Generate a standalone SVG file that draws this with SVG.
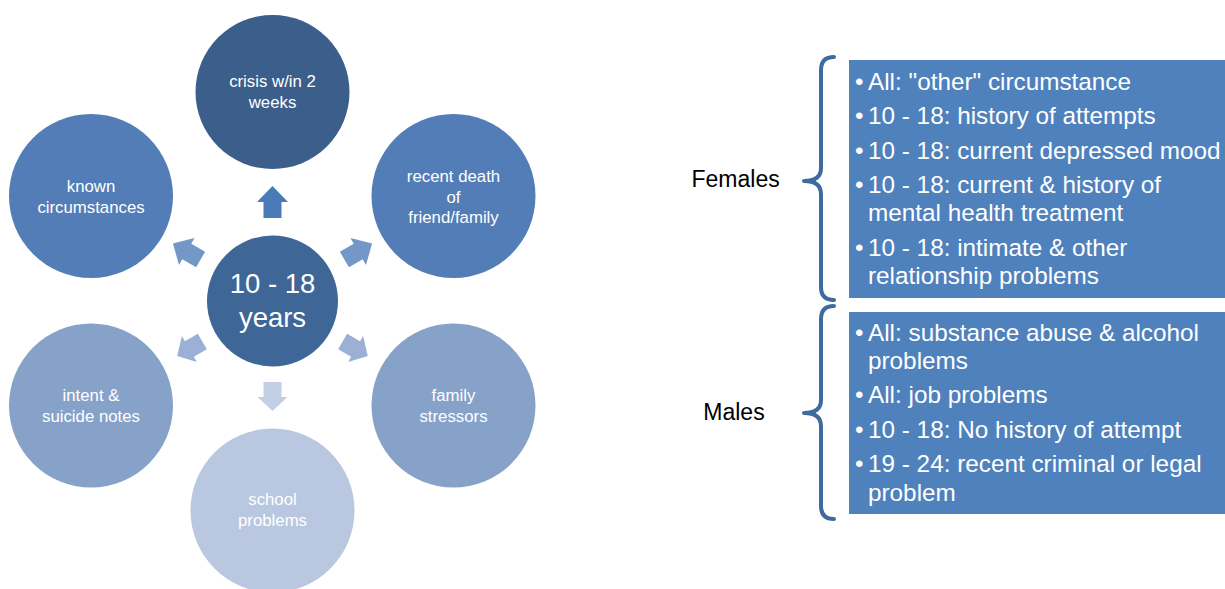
<svg xmlns="http://www.w3.org/2000/svg" xmlns:xlink="http://www.w3.org/1999/xlink" width="1225" height="589" viewBox="0 0 1225 589">
<defs>
<style>
.lbl{font-family:"Liberation Sans",Arial,sans-serif;font-size:16.8px;fill:#ffffff;text-anchor:middle}
.ctr{font-family:"Liberation Sans",Arial,sans-serif;font-size:27.5px;fill:#ffffff;text-anchor:middle}
.item{font-family:"Liberation Sans",Arial,sans-serif;font-size:24.3px;fill:#ffffff}
.side{font-family:"Liberation Sans",Arial,sans-serif;font-size:23px;fill:#000000}
.brace{fill:none;stroke:#3F6A9E;stroke-width:4;stroke-linecap:round;stroke-linejoin:round}
.box{fill:#4F81BD}
</style>
<path id="arrU" d="M -9,-83 L -9,-99 L -15.5,-99 L 0,-115 L 15.5,-99 L 9,-99 L 9,-83 Z"/>
<path id="arrL" d="M -9,-81 L -9,-96 L -15,-96 L 0,-110 L 15,-96 L 9,-96 L 9,-81 Z"/>
</defs>
<rect width="1225" height="589" fill="#ffffff"/>

<g id="connectors">
<use xlink:href="#arrU" href="#arrU" transform="translate(272.5,301)" fill="#4A7BB7"/>
<use xlink:href="#arrU" href="#arrU" transform="translate(272.5,301) rotate(60)" fill="#7397C6"/>
<use xlink:href="#arrU" href="#arrU" transform="translate(272.5,301) rotate(-60)" fill="#7397C6"/>
<use xlink:href="#arrL" href="#arrL" transform="translate(272.5,301) rotate(120)" fill="#9BB0D4"/>
<use xlink:href="#arrL" href="#arrL" transform="translate(272.5,301) rotate(-120)" fill="#9BB0D4"/>
<use xlink:href="#arrL" href="#arrL" transform="translate(272.5,301) rotate(180)" fill="#C3CFE5"/>
</g>

<g id="node-top">
<circle cx="272.5" cy="92" r="77" fill="#3B5E8B"/>
<text class="lbl" x="272.5" y="87.3">crisis w/in 2</text>
<text class="lbl" x="272.5" y="108">weeks</text>
</g>
<g id="node-known">
<circle cx="91" cy="196" r="82" fill="#537DB6"/>
<text class="lbl" x="91" y="192.3">known</text>
<text class="lbl" x="91" y="213.3">circumstances</text>
</g>
<g id="node-death">
<circle cx="453.5" cy="196" r="82" fill="#537DB6"/>
<text class="lbl" x="453.5" y="182.3">recent death</text>
<text class="lbl" x="453.5" y="202.6">of</text>
<text class="lbl" x="453.5" y="222.9">friend/family</text>
</g>
<g id="node-intent">
<circle cx="91" cy="405.5" r="82" fill="#87A2C8"/>
<text class="lbl" x="91" y="401">intent &amp;</text>
<text class="lbl" x="91" y="421.7">suicide notes</text>
</g>
<g id="node-family">
<circle cx="453.5" cy="405.5" r="82" fill="#87A2C8"/>
<text class="lbl" x="453.5" y="401">family</text>
<text class="lbl" x="453.5" y="421.7">stressors</text>
</g>
<g id="node-school">
<circle cx="272.5" cy="510.5" r="82" fill="#B9C7E0"/>
<text class="lbl" x="272.5" y="505">school</text>
<text class="lbl" x="272.5" y="525.5">problems</text>
</g>
<g id="node-center">
<circle cx="272.5" cy="301" r="65.5" fill="#3E6697"/>
<text class="ctr" x="272.5" y="292.7">10 - 18</text>
<text class="ctr" x="272.5" y="326.7">years</text>
</g>

<g id="females">
<text class="side" x="691.5" y="186.7">Females</text>
<path class="brace" d="M 834,57 Q 821,57 821,70 L 821,168 Q 821,181 804,181 Q 821,181 821,194 L 821,287 Q 821,300 834,300"/>
<rect class="box" x="849" y="60" width="376" height="238"/>
<g class="item">
<text x="855" y="90">•</text><text x="868" y="90">All: "other" circumstance</text>
<text x="855" y="124.3">•</text><text x="868" y="124.3">10 - 18: history of attempts</text>
<text x="855" y="158.6">•</text><text x="868" y="158.6">10 - 18: current depressed mood</text>
<text x="855" y="192.9">•</text><text x="868" y="192.9">10 - 18: current &amp; history of</text>
<text x="868" y="221.2">mental health treatment</text>
<text x="855" y="255.5">•</text><text x="868" y="255.5">10 - 18: intimate &amp; other</text>
<text x="868" y="283.8">relationship problems</text>
</g>
</g>

<g id="males">
<text class="side" x="703.3" y="420">Males</text>
<path class="brace" d="M 834,306 Q 821,306 821,319 L 821,400 Q 821,413 804,413 Q 821,413 821,426 L 821,506 Q 821,519 834,519"/>
<rect class="box" x="849" y="312" width="376" height="202"/>
<g class="item">
<text x="855" y="340.5">•</text><text x="868" y="340.5">All: substance abuse &amp; alcohol</text>
<text x="868" y="368.6">problems</text>
<text x="855" y="403.2">•</text><text x="868" y="403.2">All: job problems</text>
<text x="855" y="437.5">•</text><text x="868" y="437.5">10 - 18: No history of attempt</text>
<text x="855" y="472">•</text><text x="868" y="472">19 - 24: recent criminal or legal</text>
<text x="868" y="500.5">problem</text>
</g>
</g>
</svg>
